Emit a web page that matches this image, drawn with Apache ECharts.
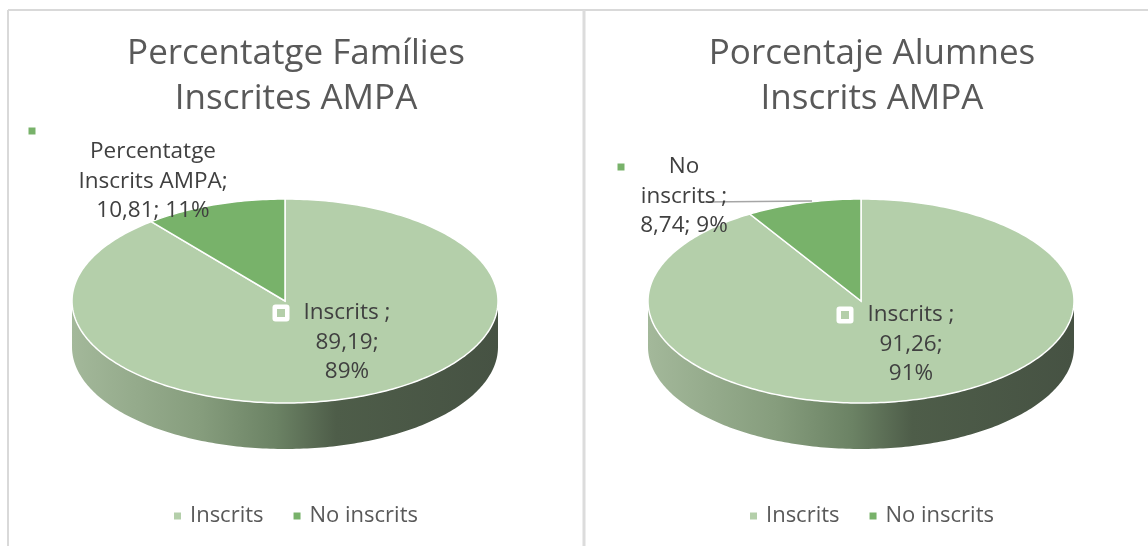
<!DOCTYPE html>
<html><head><meta charset="utf-8">
<script src="https://cdn.jsdelivr.net/npm/echarts@6/dist/echarts.min.js"></script>
<style>html,body{margin:0;padding:0;background:#fff}#chart{width:1148px;height:546px}</style>
</head><body><div id="chart"></div>
<script>
// ---- data ----
const categories = ['Inscrits', 'No inscrits'];
const familiesValues = [89.19, 10.81];
const alumnesValues = [91.26, 8.74];
const familiesLabelNames = ['Inscrits ', 'Percentatge\nInscrits AMPA'];
const alumnesLabelNames = ['Inscrits ', 'No\ninscrits '];
const chartTitles = ['Percentatge Famílies\nInscrites AMPA', 'Porcentaje Alumnes\nInscrits AMPA'];

const pieValues = [familiesValues, alumnesValues];
const pieLabelNames = [familiesLabelNames, alumnesLabelNames];

// ---- layout / style ----
const FONT = '"Open Sans", sans-serif';
const COLORS = ['#b4cfaa', '#78b26a'];
const LABEL_LH = 29.5;
const LAYOUT = {
  titleX: [296, 872],
  pies: [{cx: 285, cy: 301}, {cx: 861, cy: 301}],
  rx: 213, ry: 102, depth: 46,
  labels: [
    [{tx: 62, ty: 12, kx: -4, ky: 12, big: true}, {tx: -132, ty: -149, kx: -253, ky: -170}],
    [{tx: 50, ty: 14, kx: -16, ky: 14, big: true}, {tx: -177, ty: -134, kx: -240, ky: -134, leader: [[-158, -99], [-49, -100]]}]
  ],
  legendLeft: [174, 750]
};

function fmt(v) { return v.toFixed(2).replace('.', ','); }
function ellPt(p, t, dy) { return [p.cx + LAYOUT.rx * Math.sin(t), p.cy - LAYOUT.ry * Math.cos(t) + (dy || 0)]; }
function arc(p, a0, a1, dy) {
  const pts = [];
  const n = Math.max(2, Math.ceil(Math.abs(a1 - a0) / (Math.PI / 180)));
  for (let i = 0; i <= n; i++) pts.push(ellPt(p, a0 + (a1 - a0) * i / n, dy));
  return pts;
}

function makeRenderItem(catIdx) {
  return function (params, api) {
    const pieIdx = api.value(0);
    const value = api.value(1);
    const start = api.value(2);
    const total = api.value(3);
    const p = LAYOUT.pies[pieIdx];
    const a0 = start / total * 2 * Math.PI;
    const a1 = (start + value) / total * 2 * Math.PI;
    const children = [];
    // side wall (front half only)
    const w0 = Math.max(a0, Math.PI / 2), w1 = Math.min(a1, 1.5 * Math.PI);
    if (w1 > w0) {
      const top = arc(p, w0, w1, 0);
      const bot = arc(p, w1, w0, LAYOUT.depth);
      children.push({
        type: 'polygon', z2: 1,
        shape: {points: top.concat(bot)},
        style: {
          fill: new echarts.graphic.LinearGradient(p.cx - LAYOUT.rx, 0, p.cx + LAYOUT.rx, 0, [
            {offset: 0, color: '#a3b89a'},
            {offset: 0.3, color: '#869d7d'},
            {offset: 0.48, color: '#6b8264'},
            {offset: 0.62, color: '#4e5d49'},
            {offset: 1, color: '#465243'}
          ], true)
        }
      });
    }
    // top face
    children.push({
      type: 'polygon', z2: 2,
      shape: {points: [[p.cx, p.cy]].concat(arc(p, a0, a1, 0))},
      style: {fill: COLORS[catIdx], stroke: '#ffffff', lineWidth: 1.5}
    });
    // label
    const L = LAYOUT.labels[pieIdx][catIdx];
    const pct = Math.round(value / total * 100) + '%';
    const name = pieLabelNames[pieIdx][catIdx];
    const txt = L.big ? name + ';\n' + fmt(value) + ';\n' + pct : name + ';\n' + fmt(value) + '; ' + pct;
    children.push({
      type: 'text', z2: 6,
      x: p.cx + L.tx, y: p.cy + L.ty - LABEL_LH / 2,
      style: {text: txt, align: 'center', verticalAlign: 'top', fontSize: 22.5, fontFamily: FONT, fill: '#404040', lineHeight: LABEL_LH}
    });
    if (L.big) {
      children.push({type: 'rect', z2: 6, shape: {x: p.cx + L.kx - 8.5, y: p.cy + L.ky - 8.5, width: 17, height: 17, r: 3}, style: {fill: '#ffffff'}});
      children.push({type: 'rect', z2: 7, shape: {x: p.cx + L.kx - 4, y: p.cy + L.ky - 4, width: 8, height: 8}, style: {fill: COLORS[catIdx]}});
    } else {
      children.push({type: 'rect', z2: 6, shape: {x: p.cx + L.kx - 3.5, y: p.cy + L.ky - 3.5, width: 7, height: 7}, style: {fill: COLORS[catIdx]}});
    }
    if (L.leader) {
      children.push({type: 'polyline', z2: 5, shape: {points: L.leader.map(d => [p.cx + d[0], p.cy + d[1]])}, style: {stroke: '#a6a6a6', lineWidth: 1.5, fill: null}});
    }
    return {type: 'group', children: children};
  };
}

const chart = echarts.init(document.getElementById('chart'), null, {renderer: 'canvas'});
const sum = a => a.reduce((s, v) => s + v, 0);

const option = {
  animation: false,
  backgroundColor: '#ffffff',
  graphic: [
    {type: 'line', shape: {x1: 8, y1: 10, x2: 1148, y2: 10}, style: {stroke: '#d9d9d9', lineWidth: 2}},
    {type: 'line', shape: {x1: 8, y1: 10, x2: 8, y2: 546}, style: {stroke: '#d9d9d9', lineWidth: 2}},
    {type: 'line', shape: {x1: 584, y1: 10, x2: 584, y2: 546}, style: {stroke: '#dcdcdc', lineWidth: 3}}
  ].concat(chartTitles.map((t, i) => ({
    type: 'text', x: LAYOUT.titleX[i], y: 54 - 22.5,
    style: {text: t, align: 'center', verticalAlign: 'top', fontSize: 35, fontFamily: FONT, fill: '#595959', lineHeight: 45}
  }))),
  legend: LAYOUT.legendLeft.map(l => ({
    data: categories, left: l, top: 505, padding: 0,
    icon: 'rect', itemWidth: 7, itemHeight: 7, itemGap: 30,
    textStyle: {fontSize: 22, fontFamily: FONT, color: '#595959', padding: [0, 0, 0, 4]},
    selectedMode: false
  })),
  series: categories.map((c, ci) => ({
    type: 'custom', name: c, coordinateSystem: 'none', silent: true,
    itemStyle: {color: COLORS[ci]},
    renderItem: makeRenderItem(ci),
    data: pieValues.map((vals, pi) => [pi, vals[ci], sum(vals.slice(0, ci)), sum(vals)])
  }))
};
chart.setOption(option);
</script>
</body></html>
